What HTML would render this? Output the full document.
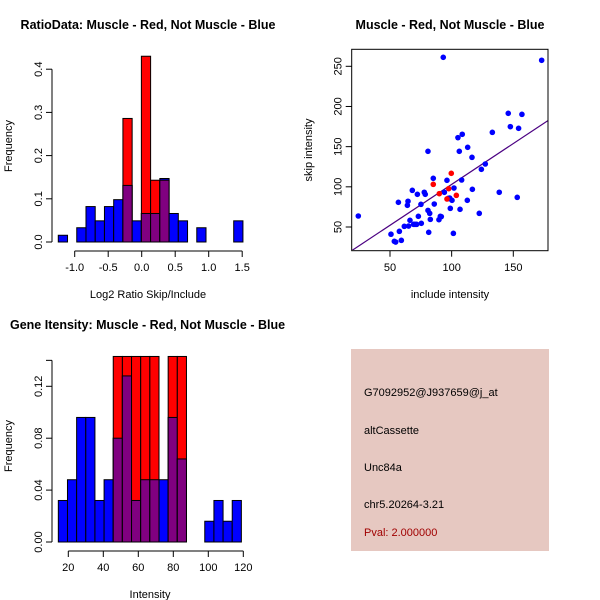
<!DOCTYPE html>
<html><head><meta charset="utf-8"><style>
body{margin:0;background:#fff}
svg{display:block;font-family:"Liberation Sans",sans-serif}
.t{font-weight:bold;font-size:12.5px}
.l{font-size:11px}
</style></head><body>
<svg id="s" width="600" height="600" viewBox="0 0 600 600">
<text class="t" x="148" y="29" text-anchor="middle">RatioData: Muscle - Red, Not Muscle - Blue</text>
<text class="l" x="148" y="298" text-anchor="middle">Log2 Ratio Skip/Include</text>
<text class="l" transform="translate(12,146) rotate(-90)" text-anchor="middle">Frequency</text>
<text class="t" x="450" y="29" text-anchor="middle">Muscle - Red, Not Muscle - Blue</text>
<text class="l" x="450" y="298" text-anchor="middle">include intensity</text>
<text class="l" transform="translate(312,150) rotate(-90)" text-anchor="middle">skip intensity</text>
<text class="t" x="10" y="329">Gene Itensity: Muscle - Red, Not Muscle - Blue</text>
<text class="l" x="150" y="598" text-anchor="middle">Intensity</text>
<text class="l" transform="translate(12,446) rotate(-90)" text-anchor="middle">Frequency</text>
<g>
<rect x="351" y="349" width="198" height="202" fill="#e6c8c1"/>
<text class="l" x="364" y="396">G7092952@J937659@j_at</text>
<text class="l" x="364" y="434">altCassette</text>
<text class="l" x="364" y="471">Unc84a</text>
<text class="l" x="364" y="508">chr5.20264-3.21</text>
<text class="l" x="364" y="536" fill="#a00000">Pval: 2.000000</text>
</g>
</svg>
<script>
const ratioBinStart=-1.245, ratioBinWidth=0.1378;
const ratioBlue=[0.0156,0,0.033,0.082,0.049,0.082,0.098,0.131,0.049,0.066,0.066,0.147,0.066,0.049,0,0.033,0,0,0,0.049];
const ratioRed=[0,0,0,0,0,0,0,0.286,0,0.43,0.143,0.143,0,0,0,0,0,0,0,0];
const ratioXTicks=[-1.0,-0.5,0.0,0.5,1.0,1.5];
const ratioYTicks=[0.0,0.1,0.2,0.3,0.4];
const intBinStart=14.3, intBinWidth=5.23;
const intBlue=[0.032,0.048,0.096,0.096,0.032,0.048,0.08,0.128,0.032,0.048,0.048,0.048,0.096,0.064,0,0,0.016,0.032,0.016,0.032];
const intRed=[0,0,0,0,0,0,0.143,0.143,0.143,0.143,0.143,0,0.143,0.143,0,0,0,0,0,0];
const intXTicks=[20,40,60,80,100,120];
const intYTicks=[0.00,0.04,0.08,0.12];
const blueX=[24.3,50.8,53.5,54.6,56.8,57.6,59.2,61.6,64.1,64.6,65.1,66.2,68.1,69.2,70.3,71.6,72.2,73,75.1,75.4,77.8,78.6,80.8,80.8,81.4,82.2,82.7,85.1,85.9,89.7,90.8,91.6,93.2,94.1,96.2,97.3,97.6,98.4,98.9,100.3,101.4,101.9,105.1,106.2,106.8,108.1,108.6,112.7,113,116.5,116.8,124.1,122.4,127.3,133,138.6,145.9,147.6,153.2,154.3,157,173];
const blueY=[63.7,41,32.2,31.3,80.7,44.6,33.4,50.8,77,82,51.2,58.3,95.6,53.3,53.3,53.3,90.7,63.3,78.2,54.6,93.2,90.7,144.2,70.7,43.4,67,59.5,110.6,78.6,59.1,63.3,62.9,261.2,93.2,108.1,85.7,85.3,86.1,73.2,83.2,42.1,98.5,161.2,144.2,72,108.5,165.4,83.2,149.2,136.7,96.9,121.8,67,128.4,167.8,93.2,191.5,174.9,86.9,172.8,190.2,257.5];
const redX=[85.1,90,97.6,99.7,103.8,96.2];
const redY=[103.1,91.5,97.7,116.8,89.4,84.9];
const fitIntercept=1.3, fitSlope=1.017;
const scXTicks=[50,100,150];
const scYTicks=[50,100,150,200,250];

const NS='http://www.w3.org/2000/svg';
const svg=document.getElementById('s');
function mk(tag,attrs,parent){const e=document.createElementNS(NS,tag);for(const k in attrs)e.setAttribute(k,attrs[k]);(parent||svg).appendChild(e);return e;}
function fmt(v,d){return v.toFixed(d);}

function hist(o){
  const g=mk('g',{});
  
  
  const X=v=>o.x0+(v-o.xv0)*o.xs, Y=v=>o.y0-v*o.ys;
  for(let i=0;i<o.blue.length;i++){
    const a=X(o.start+i*o.w), b=X(o.start+(i+1)*o.w);
    const bl=o.blue[i], rd=o.red[i];
    if(bl>0){const r=mk('rect',{x:a,y:Y(bl),width:b-a,height:bl*o.ys,fill:'#0000ff',stroke:'#000','stroke-width':1},g);
      
      }
    if(rd>0){const r=mk('rect',{x:a,y:Y(rd),width:b-a,height:rd*o.ys,fill:'#ff0000',stroke:'#000','stroke-width':1},g);
      
      
      const m=Math.min(bl,rd);
      if(m>0){const p=mk('rect',{x:a,y:Y(m),width:b-a,height:m*o.ys,fill:'#800080',stroke:'#000','stroke-width':1},g);
        
        }}
  }
  const ax=mk('g',{stroke:'#000','stroke-width':1,fill:'none'},g);
  
  
  const xt=o.xticks;
  mk('line',{x1:X(xt[0]),x2:X(xt[xt.length-1]),y1:o.xaxY,y2:o.xaxY},ax);
  xt.forEach(t=>{mk('line',{x1:X(t),x2:X(t),y1:o.xaxY,y2:o.xaxY+6},ax);
    const tx=mk('text',{x:X(t),y:o.xaxY+20,'text-anchor':'middle','font-size':11,fill:'#000'},g);tx.textContent=fmt(t,o.xd);
    
    });
  const yt=o.yticks;
  mk('line',{x1:o.yaxX,x2:o.yaxX,y1:Y(yt[0]),y2:Y(o.ytop)},ax);
  yt.concat(o.extraTick?[o.ytop]:[]).forEach(t=>{mk('line',{x1:o.yaxX,x2:o.yaxX-6,y1:Y(t),y2:Y(t)},ax);});
  yt.forEach(t=>{const tx=mk('text',{transform:`translate(${o.yaxX-10},${Y(t)}) rotate(-90)`,'text-anchor':'middle','font-size':11,fill:'#000'},g);tx.textContent=fmt(t,o.yd);
    
    });
}
hist({name:'ratio',blue:ratioBlue,red:ratioRed,start:ratioBinStart,w:ratioBinWidth,x0:141.7,xv0:0,xs:67,y0:242,ys:432,xaxY:251,yaxX:52,xticks:ratioXTicks,yticks:ratioYTicks,ytop:0.4,xd:1,yd:1});
hist({name:'intensity',blue:intBlue,red:intRed,start:intBinStart,w:intBinWidth,x0:68.3,xv0:20,xs:1.75,y0:542,ys:1297.5,xaxY:551,yaxX:52,xticks:intXTicks,yticks:intYTicks,ytop:0.14,extraTick:true,xd:0,yd:2});

// scatter
(function(){
  const X=v=>390+(v-50)*1.233, Y=v=>227-(v-50)*0.8035;
  const g=mk('g',{});
  
  
  const cp=mk('clipPath',{id:'scclip'},g);mk('rect',{x:352,y:50,width:196,height:200},cp);
  const fit=mk('line',{x1:X(0),y1:Y(fitIntercept),x2:X(200),y2:Y(fitIntercept+fitSlope*200),stroke:'#4b0082','stroke-width':1.2,'clip-path':'url(#scclip)'},g);
  
  
  blueX.forEach((x,i)=>{const c=mk('circle',{cx:X(x),cy:Y(blueY[i]),r:2.8,fill:'#0000ff'},g);
    
    });
  redX.forEach((x,i)=>{const c=mk('circle',{cx:X(x),cy:Y(redY[i]),r:2.8,fill:'#ff0000'},g);
    
    });
  const box=mk('rect',{x:351.7,y:49.3,width:196.3,height:201.4,fill:'none',stroke:'#000','stroke-width':1},g);
  
  
  scXTicks.forEach(t=>{mk('line',{x1:X(t),x2:X(t),y1:250.7,y2:256.7,stroke:'#000'},g);
    const tx=mk('text',{x:X(t),y:271,'text-anchor':'middle','font-size':11},g);tx.textContent=t;
    
    });
  scYTicks.forEach(t=>{mk('line',{x1:351.7,x2:345.7,y1:Y(t),y2:Y(t),stroke:'#000'},g);
    const tx=mk('text',{transform:`translate(341.7,${Y(t)}) rotate(-90)`,'text-anchor':'middle','font-size':11},g);tx.textContent=t;
    
    });
})();
</script>
</body></html>
